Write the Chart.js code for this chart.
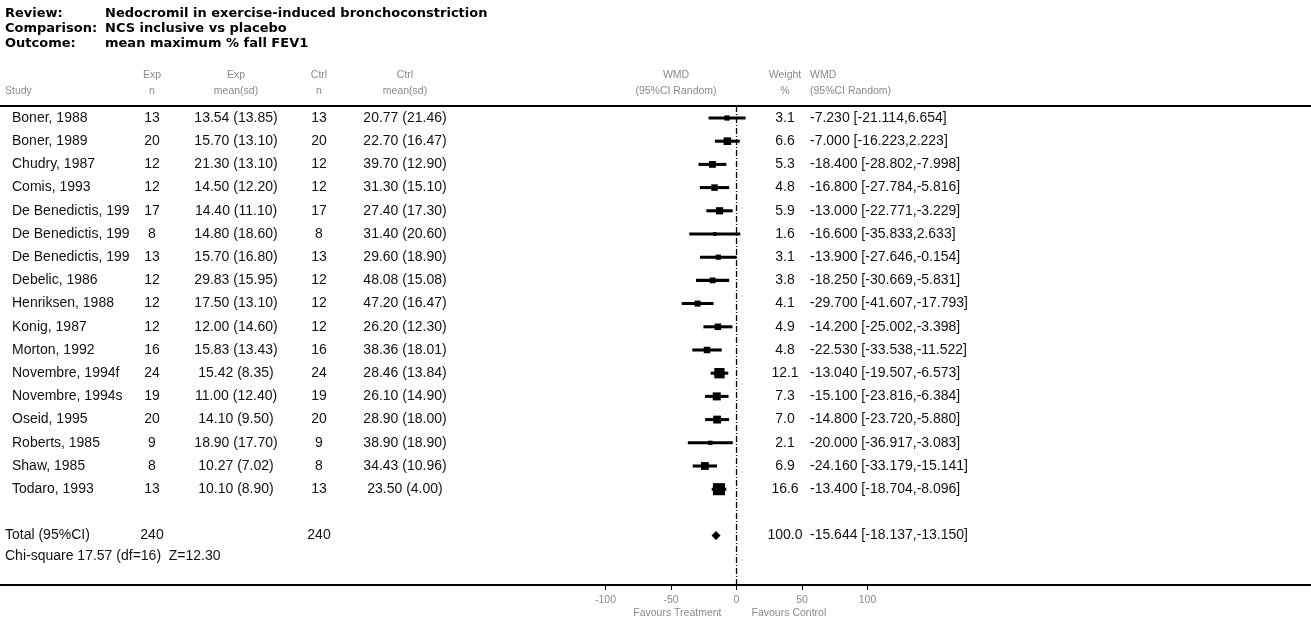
<!DOCTYPE html>
<html>
<head>
<meta charset="utf-8">
<script src="https://cdn.jsdelivr.net/npm/chart.js@4.4.1/dist/chart.umd.min.js"></script>
<style>
  html, body { margin: 0; padding: 0; background: #fff; }
  #wrap { width: 1311px; height: 624px; position: relative; }
</style>
</head>
<body>
<div id="wrap"><canvas id="forest" width="1311" height="624"></canvas></div>
<script>
// Review details
const reviewTitle = 'Nedocromil in exercise-induced bronchoconstriction';
const comparisonTitle = 'NCS inclusive vs placebo';
const outcomeTitle = 'mean maximum % fall FEV1';

// Included studies
const studies = [
  'Boner, 1988', 'Boner, 1989', 'Chudry, 1987', 'Comis, 1993',
  'De Benedictis, 199', 'De Benedictis, 199', 'De Benedictis, 199',
  'Debelic, 1986', 'Henriksen, 1988', 'Konig, 1987', 'Morton, 1992',
  'Novembre, 1994f', 'Novembre, 1994s', 'Oseid, 1995', 'Roberts, 1985',
  'Shaw, 1985', 'Todaro, 1993'
];
const expN     = [13, 20, 12, 12, 17, 8, 13, 12, 12, 12, 16, 24, 19, 20, 9, 8, 13];
const expMean  = [13.54, 15.70, 21.30, 14.50, 14.40, 14.80, 15.70, 29.83, 17.50, 12.00, 15.83, 15.42, 11.00, 14.10, 18.90, 10.27, 10.10];
const expSd    = [13.85, 13.10, 13.10, 12.20, 11.10, 18.60, 16.80, 15.95, 13.10, 14.60, 13.43, 8.35, 12.40, 9.50, 17.70, 7.02, 8.90];
const ctrlN    = [13, 20, 12, 12, 17, 8, 13, 12, 12, 12, 16, 24, 19, 20, 9, 8, 13];
const ctrlMean = [20.77, 22.70, 39.70, 31.30, 27.40, 31.40, 29.60, 48.08, 47.20, 26.20, 38.36, 28.46, 26.10, 28.90, 38.90, 34.43, 23.50];
const ctrlSd   = [21.46, 16.47, 12.90, 15.10, 17.30, 20.60, 18.90, 15.08, 16.47, 12.30, 18.01, 13.84, 14.90, 18.00, 18.90, 10.96, 4.00];
const weights  = [3.1, 6.6, 5.3, 4.8, 5.9, 1.6, 3.1, 3.8, 4.1, 4.9, 4.8, 12.1, 7.3, 7.0, 2.1, 6.9, 16.6];
const wmd      = [-7.230, -7.000, -18.400, -16.800, -13.000, -16.600, -13.900, -18.250, -29.700, -14.200, -22.530, -13.040, -15.100, -14.800, -20.000, -24.160, -13.400];
const ciLow    = [-21.114, -16.223, -28.802, -27.784, -22.771, -35.833, -27.646, -30.669, -41.607, -25.002, -33.538, -19.507, -23.816, -23.720, -36.917, -33.179, -18.704];
const ciHigh   = [6.654, 2.223, -7.998, -5.816, -3.229, 2.633, -0.154, -5.831, -17.793, -3.398, -11.522, -6.573, -6.384, -5.880, -3.083, -15.141, -8.096];

// Pooled estimate
const totalExpN = 240;
const totalCtrlN = 240;
const totalWeight = 100.0;
const totalWmd = -15.644;
const totalLow = -18.137;
const totalHigh = -13.150;
const heterogeneity = 'Chi-square 17.57 (df=16)  Z=12.30';

// Axis
const xTicks = [-100, -50, 0, 50, 100];
const favourLeft = 'Favours Treatment';
const favourRight = 'Favours Control';

// Row positions on the vertical scale
const rows = studies.map((_, i) => i);
const totalRow = 18;
const hetRow = 18.88;

const fmt = (v, d) => v.toFixed(d);
const ciText = (m, lo, hi) => `${fmt(m, 3)} [${fmt(lo, 3)},${fmt(hi, 3)}]`;

const BODY_FONT = '14px "Liberation Sans", Arial, sans-serif';
const HEAD_FONT = 'bold 13px "DejaVu Sans", sans-serif';
const SMALL_FONT = '10.5px "Liberation Sans", Arial, sans-serif';

const tablePlugin = {
  id: 'forestTable',
  afterDraw(chart) {
    const ctx = chart.ctx;
    const ys = chart.scales.y;
    const top = chart.chartArea.top;
    ctx.save();
    ctx.textBaseline = 'middle';

    // Review heading block
    ctx.fillStyle = '#000';
    ctx.font = HEAD_FONT;
    ctx.textAlign = 'left';
    [['Review:', reviewTitle, 14], ['Comparison:', comparisonTitle, 29], ['Outcome:', outcomeTitle, 44]]
      .forEach(([k, v, y]) => { ctx.fillText(k, 5, y); ctx.fillText(v, 105, y); });

    // Column headings
    ctx.fillStyle = '#8a8a8a';
    ctx.font = SMALL_FONT;
    const h1 = 75, h2 = 91;
    ctx.textAlign = 'left';
    ctx.fillText('Study', 5, h2);
    ctx.textAlign = 'center';
    ctx.fillText('Exp', 152, h1); ctx.fillText('n', 152, h2);
    ctx.fillText('Exp', 236, h1); ctx.fillText('mean(sd)', 236, h2);
    ctx.fillText('Ctrl', 319, h1); ctx.fillText('n', 319, h2);
    ctx.fillText('Ctrl', 405, h1); ctx.fillText('mean(sd)', 405, h2);
    ctx.fillText('WMD', 676, h1); ctx.fillText('(95%CI Random)', 676, h2);
    ctx.fillText('Weight', 785, h1); ctx.fillText('%', 785, h2);
    ctx.textAlign = 'left';
    ctx.fillText('WMD', 810, h1); ctx.fillText('(95%CI Random)', 810, h2);

    // Rule under the headings
    ctx.strokeStyle = '#000';
    ctx.lineWidth = 2;
    ctx.beginPath(); ctx.moveTo(0, top); ctx.lineTo(chart.width, top); ctx.stroke();

    // Study rows
    ctx.fillStyle = '#111';
    ctx.font = BODY_FONT;
    rows.forEach(i => {
      const y = ys.getPixelForValue(i);
      ctx.save();
      ctx.beginPath(); ctx.rect(0, y - 12, 136, 24); ctx.clip();
      ctx.textAlign = 'left';
      ctx.fillText(studies[i], 12, y);
      ctx.restore();
      ctx.textAlign = 'center';
      ctx.fillText(String(expN[i]), 152, y);
      ctx.fillText(`${fmt(expMean[i], 2)} (${fmt(expSd[i], 2)})`, 236, y);
      ctx.fillText(String(ctrlN[i]), 319, y);
      ctx.fillText(`${fmt(ctrlMean[i], 2)} (${fmt(ctrlSd[i], 2)})`, 405, y);
      ctx.fillText(fmt(weights[i], 1), 785, y);
      ctx.textAlign = 'left';
      ctx.fillText(ciText(wmd[i], ciLow[i], ciHigh[i]), 810, y);
    });

    // Pooled row
    const ty = ys.getPixelForValue(totalRow);
    ctx.textAlign = 'left';
    ctx.fillText('Total (95%CI)', 5, ty);
    ctx.textAlign = 'center';
    ctx.fillText(String(totalExpN), 152, ty);
    ctx.fillText(String(totalCtrlN), 319, ty);
    ctx.fillText(fmt(totalWeight, 1), 785, ty);
    ctx.textAlign = 'left';
    ctx.fillText(ciText(totalWmd, totalLow, totalHigh), 810, ty);
    ctx.fillText(heterogeneity, 5, ys.getPixelForValue(hetRow));

    // Direction labels under the axis
    const xs = chart.scales.x;
    const zx = xs.getPixelForValue(0);
    ctx.fillStyle = '#8a8a8a';
    ctx.font = SMALL_FONT;
    ctx.textAlign = 'right';
    ctx.fillText(favourLeft, zx - 15, 613);
    ctx.textAlign = 'left';
    ctx.fillText(favourRight, zx + 15, 613);
    ctx.restore();
  }
};

const yMin = -0.517, yMax = 20.13;

new Chart(document.getElementById('forest'), {
  type: 'scatter',
  data: {
    datasets: [
      {
        // line of no effect
        type: 'line',
        data: [{ x: 0, y: yMin }, { x: 0, y: yMax }],
        borderColor: '#000',
        borderWidth: 1.3,
        borderDash: [6, 2, 1, 2],
        pointRadius: 0,
        fill: false
      },
      {
        // confidence intervals
        type: 'bar',
        indexAxis: 'y',
        data: rows.map(i => ({ x: [ciLow[i], ciHigh[i]], y: i })),
        backgroundColor: '#000',
        borderWidth: 0,
        barThickness: 2.4,
        grouped: false
      },
      {
        // study estimates, sized by weight
        data: rows.map(i => ({ x: wmd[i], y: i })),
        pointStyle: 'rect',
        pointRadius: rows.map(i => 2.1 * Math.sqrt(weights[i])),
        backgroundColor: '#000',
        borderColor: '#000',
        borderWidth: 0
      },
      {
        // pooled estimate
        data: [{ x: totalWmd, y: totalRow }],
        pointStyle: 'rectRot',
        pointRadius: 4.5,
        backgroundColor: '#000',
        borderColor: '#000',
        borderWidth: 0
      }
    ]
  },
  options: {
    responsive: false,
    animation: false,
    events: [],
    layout: { autoPadding: false, padding: { top: 106, left: 0, right: 0, bottom: 0 } },
    plugins: { legend: { display: false }, tooltip: { enabled: false } },
    scales: {
      x: {
        type: 'linear',
        offset: false,
        min: -562.2,
        max: 438.5,
        afterFit: s => { s.height = 39; },
        afterBuildTicks: s => { s.ticks = xTicks.map(v => ({ value: v })); },
        grid: { display: true, offset: false, drawOnChartArea: false, drawTicks: true, tickLength: 5, color: '#000', lineWidth: 1 },
        border: { display: true, color: '#000', width: 2 },
        ticks: { color: '#8a8a8a', font: { family: '"Liberation Sans", Arial, sans-serif', size: 10.5 }, padding: 4, maxRotation: 0, autoSkip: false }
      },
      y: {
        type: 'linear',
        display: false,
        offset: false,
        grid: { offset: false },
        reverse: true,
        min: yMin,
        max: yMax
      }
    }
  },
  plugins: [tablePlugin]
});
</script>
</body>
</html>
